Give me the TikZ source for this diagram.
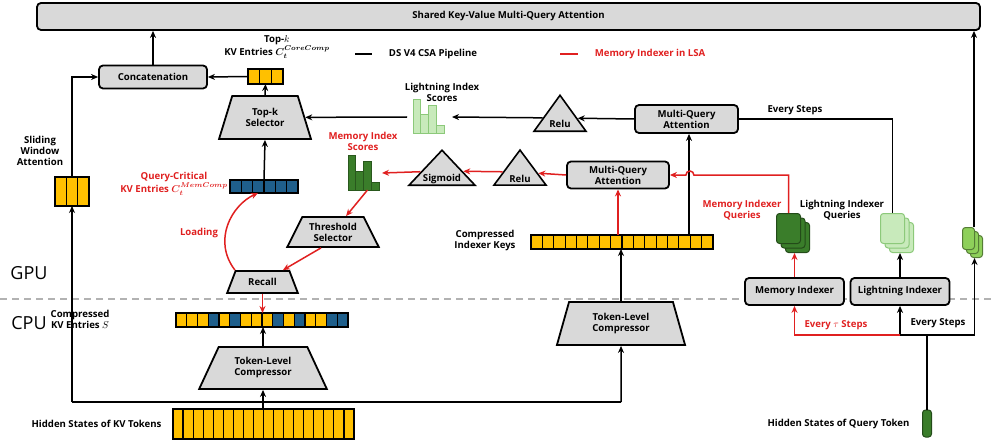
\documentclass[tikz,border=0pt]{standalone}
\usepackage{fontspec}
\setmainfont{Open Sans}
\usetikzlibrary{arrows.meta,calc,shapes.geometric}
\definecolor{kvyellow}{HTML}{FFC000}
\definecolor{kvblue}{HTML}{1F5F8B}
\definecolor{boxgray}{HTML}{D9D9D9}
\definecolor{lsared}{HTML}{E02020}
\definecolor{dgreen}{HTML}{3A7D2A}
\definecolor{lgreen}{HTML}{C8EABB}
\definecolor{lgreenb}{HTML}{8CC97A}
\definecolor{sgreen}{HTML}{8ED05A}
\tikzset{
 every node/.style={font=\fontsize{9.6}{11}\selectfont\bfseries},
 box/.style={draw,line width=1.8pt,fill=boxgray,rounded corners=4pt,align=center,inner sep=1pt},
 trap/.style={draw,line width=1.8pt,fill=boxgray,trapezium,trapezium stretches=true,align=center,inner sep=1pt},
 tri/.style={draw,line width=1.6pt,fill=boxgray,isosceles triangle,isosceles triangle stretches,shape border rotate=90,inner sep=0pt},
 cell/.style={draw,line width=1.2pt},
 arr/.style={line width=1.5pt,-{Stealth[length=7pt,width=6pt]}},
 rarr/.style={arr,lsared},
 line/.style={line width=1.5pt},
 rline/.style={line width=1.5pt,lsared},
 sq/.style={draw,line width=1pt,rounded corners=3pt,inner sep=0pt},
}
% row of cells, name x y width height count colour
\newcommand\cellrow[7]{%
 \node[inner sep=0pt,outer sep=0pt,minimum width=#4,minimum height=#5,anchor=north west] (#1) at (#2,#3) {};
 \pgfmathsetmacro\cw{#4/#6}
 \foreach \i in {1,...,#6} {\draw[cell,fill=#7] ($(#1.north west)+({(\i-1)*\cw},0)$) rectangle ++(\cw,#5);}
}
% score bars, name x y fill draw
\newcommand\scorebars[5]{%
 \node[inner sep=0pt,outer sep=0pt,minimum width=31,minimum height=34,anchor=north west] (#1) at (#2,#3) {};
 \foreach \dx/\top in {0/0,7.75/15,15.5/6,23.25/26}
  {\draw[fill=#4,draw=#5,line width=1pt] ($(#1.north west)+(\dx,\top)$) rectangle ++(7.75,34-\top);}
}
\begin{document}
\begin{tikzpicture}[x=1pt,y=-1pt]
\useasboundingbox (0,0) rectangle (996,441);
\draw[line,gray!60,dashed,dash pattern=on 7pt off 5pt] (0,299) -- (996,299);
\node[font=\fontsize{18}{20}\selectfont] (gpu) at (29,273) {GPU};
\node[font=\fontsize{18}{20}\selectfont] (cpu) at (29,323) {CPU};

% top part
\node[box,minimum width=943,minimum height=27] (shared) at (508.5,16.5) {Shared Key-Value Multi-Query Attention};
\node[box,minimum width=108,minimum height=23] (concat) at (153,77) {Concatenation};
\cellrow{kvtop}{248}{69}{35}{15}{3}{kvyellow}
\node[align=center] (kvtoplbl) at (277,47) {Top-$k$\\KV Entries {\boldmath$C_t^{CoreComp}$}};
\node[trap,trapezium left angle=68,trapezium right angle=68,minimum width=92,minimum height=43] (topk) at (265,117.5) {Top-k\\Selector};

% legend
\coordinate (lgA) at (355,54); \coordinate (lgB) at (372,54);
\draw[line] (lgA) -- (lgB);
\node (lgtxt) at (433,54) {DS V4 CSA Pipeline};
\coordinate (lgC) at (560,54); \coordinate (lgD) at (578,54);
\draw[rline] (lgC) -- (lgD);
\node[lsared] (lgtxt2) at (650,54) {Memory Indexer in LSA};

% lightning path
\scorebars{lis}{413}{100}{lgreen}{lgreenb}
\node[align=center] (lislbl) at (442,92) {Lightning Index\\Scores};
\node[tri,minimum width=52,minimum height=36] (relu1) at (560,118) {};
\node (relu1t) at (560,124) {Relu};
\node[box,minimum width=103,minimum height=28] (mqa1) at (686.5,119) {Multi-Query\\Attention};
\draw[arr] (mqa1.west) -- (relu1);
\draw[arr] (relu1) -- ([xshift=8]lis.east);
\draw[arr] ([xshift=-6]lis.west) -- (topk);
\draw[arr] (topk.north) -- (kvtop.south);
\draw[arr] (kvtop.west) -- (concat.east);
\draw[arr] (concat.north) -- (concat.north |- shared.south);

% memory path
\scorebars{mis}{348}{156}{dgreen}{dgreen!70!black}
\node[lsared,align=center] (mislbl) at (363,141) {Memory Index\\Scores};
\node[tri,minimum width=66,minimum height=35] (sigm) at (442,171) {};
\node (sigmt) at (442,179) {Sigmoid};
\node[tri,minimum width=52,minimum height=35] (relu2) at (520,172) {};
\node (relu2t) at (520,179) {Relu};
\node[box,minimum width=102,minimum height=27] (mqa2) at (618,175) {Multi-Query\\Attention};
\draw[rarr] (mqa2.west) -- (relu2);
\draw[rarr] (relu2) -- (sigm);
\draw[rarr] (sigm) -- ([xshift=3]mis.east);

\cellrow{kvmem}{230}{180}{68}{13}{6}{kvblue}
\node[lsared,align=center] (kvmemlbl) at (174,184) {Query-Critical\\KV Entries {\boldmath$C_t^{MemComp}$}};
\draw[arr] (kvmem.north) -- (topk.south);
\node[trap,trapezium left angle=59,trapezium right angle=59,minimum width=92,minimum height=30] (thr) at (333,232) {Threshold\\Selector};
\node[trap,trapezium left angle=63,trapezium right angle=63,minimum width=71,minimum height=22] (recall) at (262.5,282) {Recall};
\draw[rarr] ([xshift=4]mis.south) -- (thr);
\draw[rarr] ([xshift=-12]thr.south) -- (recall);
\draw[rarr] (recall.top left corner) .. controls (212,240) and (232,205) .. ([xshift=-6]kvmem.south);
\node[lsared] (loadlbl) at (199,233) {Loading};

% sliding window
\cellrow{swa}{55}{177}{34}{29}{3}{kvyellow}
\node[align=center] (swalbl) at (40,151) {Sliding\\Window\\Attention};
\coordinate (swaup) at (72,177);
\draw[arr] (swaup) |- (concat.west);

% indexer keys
\cellrow{keys}{531}{235}{182}{14}{16}{kvyellow}
\node[align=center] (keyslbl) at (485,241) {Compressed\\Indexer Keys};
\draw[rarr] (keys.north -| mqa2.south) -- (mqa2.south);
\coordinate (keysB) at (689,235);
\draw[arr] (keysB) -- (keysB |- mqa1.south);

% queries
\node[sq,fill=dgreen,draw=dgreen!60!black,minimum width=24,minimum height=30,anchor=north west] (mqb) at (785,222) {};
\node[sq,fill=dgreen,draw=dgreen!60!black,minimum width=24,minimum height=30,anchor=north west] (mqm) at (780.5,217.5) {};
\node[sq,fill=dgreen,draw=dgreen!60!black,minimum width=24,minimum height=30,anchor=north west] (mq) at (776,213) {};
\node[lsared,align=center] (mqlbl) at (742,210) {Memory Indexer\\Queries};
\node[sq,fill=lgreen,draw=lgreenb,minimum width=24,minimum height=30,anchor=north west] (lqb) at (889,222) {};
\node[sq,fill=lgreen,draw=lgreenb,minimum width=24,minimum height=30,anchor=north west] (lqm) at (884.5,217.5) {};
\node[sq,fill=lgreen,draw=lgreenb,minimum width=24,minimum height=30,anchor=north west] (lq) at (880,213) {};
\node[align=center] (lqlbl) at (842,210) {Lightning Indexer\\Queries};
\node[sq,fill=sgreen,draw=sgreen!60!black,minimum width=12,minimum height=22,anchor=north west] (ssb) at (970,235) {};
\node[sq,fill=sgreen,draw=sgreen!60!black,minimum width=12,minimum height=22,anchor=north west] (ssm) at (966,231) {};
\node[sq,fill=sgreen,draw=sgreen!60!black,minimum width=12,minimum height=22,anchor=north west] (ss) at (962,227) {};
\coordinate (ssT) at (974,227);
\draw[arr] (ssT) -- (ssT |- shared.south);

\draw[rarr] (mq.north) |- ([xshift=24]mqa2.east) arc (0:-180:4) -- (mqa2.east);
\draw[line] (mqa1.east) -| (lq.north);
\node (every1) at (795,110) {Every Steps};

% indexers
\node[box,minimum width=99,minimum height=27] (memidx) at (794.5,291.5) {Memory Indexer};
\node[box,minimum width=99,minimum height=27] (lidx) at (900,291.5) {Lightning Indexer};
\draw[rarr] (memidx.north) -- (memidx.north |- mqb.south);
\draw[arr] (lidx.north) -- (lidx.north |- lqb.south);

% query token
\node[sq,fill=dgreen,draw=dgreen!60!black,minimum width=9,minimum height=27] (tok) at (927,423.5) {};
\node[anchor=east] (toklbl) at (913,424) {Hidden States of Query Token};
\coordinate (jn) at (927,335);
\draw[line] (tok.north) -- (jn);
\draw[arr] (jn) -| (lidx.south);
\draw[arr] (jn) -| ([xshift=-2]ssb.south);
\draw[rarr] (lidx.south |- jn) -| (memidx.south);
\node[lsared] (everytau) at (836,325) {Every $\tau$ Steps};
\node (every2) at (938,323) {Every Steps};

% CPU side
\node[anchor=north west,inner sep=0pt,outer sep=0pt,minimum width=172,minimum height=14] (kvcomp) at (176,313) {};
\foreach \c [count=\i] in {kvyellow,kvyellow,kvyellow,kvblue,kvyellow,kvblue,kvyellow,kvyellow,kvyellow,kvblue,kvyellow,kvblue,kvyellow,kvyellow,kvblue,kvblue}
 {\draw[cell,fill=\c] ($(kvcomp.north west)+({(\i-1)*10.75},0)$) rectangle ++(10.75,14);}
\node[align=center] (kvcomplbl) at (80,319) {Compressed\\KV Entries $S$};
\draw[rarr] (recall.south) -- (recall.south |- kvcomp.north);
\node[trap,trapezium left angle=60,trapezium right angle=60,minimum width=128,minimum height=42] (tlc1) at (263,368) {Token-Level\\Compressor};
\node[trap,trapezium left angle=73,trapezium right angle=73,minimum width=129,minimum height=43] (tlc2) at (621,323.5) {Token-Level\\Compressor};
\draw[arr] (tlc1.north) -- (tlc1.north |- kvcomp.south);
\draw[arr] (tlc2.north) -- (tlc2.north |- keys.south);
\cellrow{hid}{173}{409}{181}{30}{18}{kvyellow}
\node[anchor=east] (hidlbl) at (165,424) {Hidden States of KV Tokens};
\draw[arr] (hid.north -| tlc1.south) -- (tlc1.south);
\coordinate (hidL) at (72,402);
\coordinate (hidR) at (621,402);
\draw[arr] (hidL) -- (swa.south -| hidL);
\draw[line] (hidL) -- (hidR);
\draw[arr] (hidR) -- (tlc2.south);
\end{tikzpicture}
\end{document}
